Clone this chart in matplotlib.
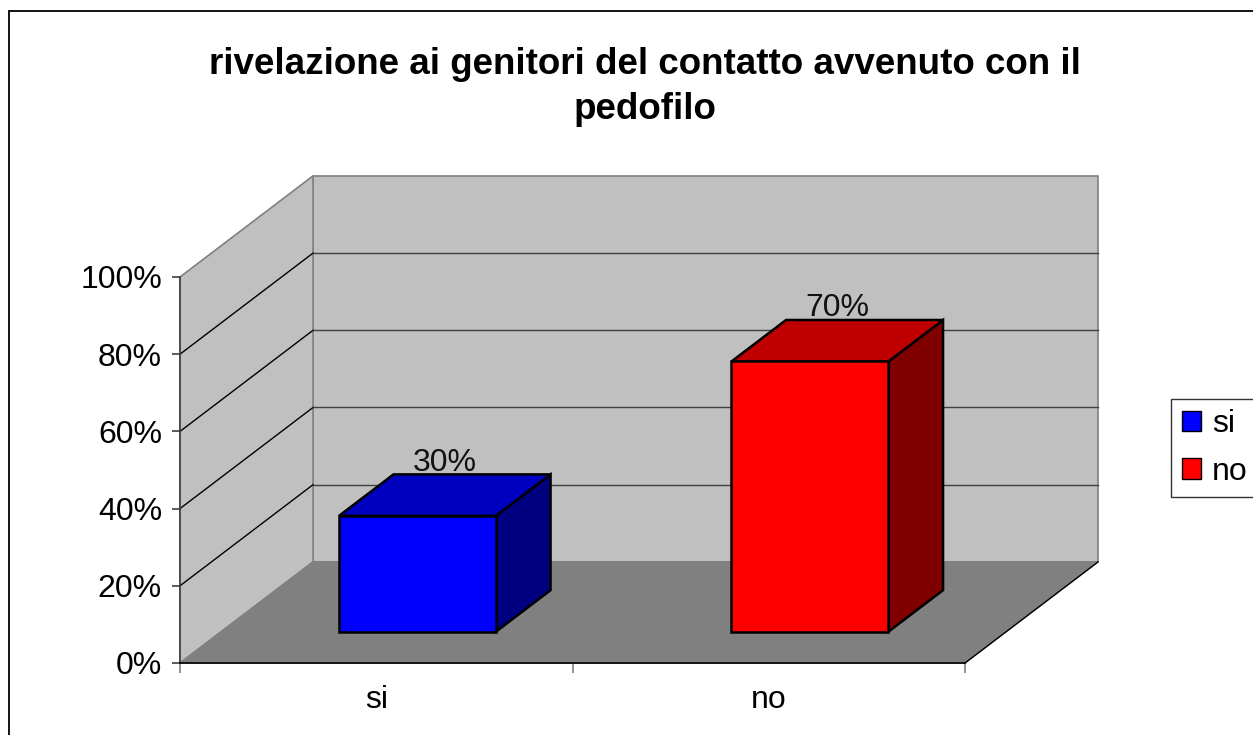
import matplotlib
matplotlib.use("Agg")
import matplotlib.pyplot as plt
from matplotlib.patches import Polygon, Patch, Rectangle

plt.rcParams['font.family'] = ['Liberation Sans', 'DejaVu Sans']

# ---- data ----
categories = ["si", "no"]
values = [30, 70]
value_labels = ["30%", "70%"]
front_colors = ["#0000FF", "#FF0000"]
top_colors = ["#0000C0", "#C00000"]
side_colors = ["#000080", "#800000"]
yticks = [0, 20, 40, 60, 80, 100]
ytick_labels = [f"{v}%" for v in yticks]
title = "rivelazione ai genitori del contatto avvenuto con il\npedofilo"

# ---- oblique projection parameters (in data units) ----
DX = 0.339   # depth offset along x (category units)
DY = 26.2    # depth offset along y (percent units)
BAR_X0, BAR_X1 = 0.3, 0.7   # bar extent within a category
BAR_D0, BAR_D1 = 0.31, 0.72 # bar extent in depth


def P(x, y, d):
    return (x + d * DX, y + d * DY)


W, H = 1253, 735
fig = plt.figure(figsize=(W / 100, H / 100), dpi=100)
ax = fig.add_axes([180 / W, 1 - 663 / H, 785 / W, 386 / H])
ncat = len(categories)
ax.set_xlim(0, ncat)
ax.set_ylim(0, 100)
ax.patch.set_visible(False)

ymax = yticks[-1]
# walls and floor
back = Polygon([P(0, 0, 1), P(ncat, 0, 1), P(ncat, ymax, 1), P(0, ymax, 1)],
               closed=True, facecolor="#C0C0C0", edgecolor="#808080", lw=1.2,
               clip_on=False, zorder=1)
left = Polygon([P(0, 0, 0), P(0, 0, 1), P(0, ymax, 1), P(0, ymax, 0)],
               closed=True, facecolor="#C0C0C0", edgecolor="#808080", lw=1.2,
               clip_on=False, zorder=1)
floor = Polygon([P(0, 0, 0), P(ncat, 0, 0), P(ncat, 0, 1), P(0, 0, 1)],
                closed=True, facecolor="#808080", edgecolor="#808080", lw=1.0,
                clip_on=False, zorder=3)
for p in (back, left, floor):
    ax.add_patch(p)
# right floor edge
xa, ya = P(ncat, 0, 0)
xb, yb = P(ncat, 0, 1)
ax.plot([xa, xb], [ya, yb], color="black", lw=1.0, clip_on=False, zorder=3.5)

# gridlines
for v in yticks[1:-1]:
    x0, y0 = P(0, v, 0)
    x1, y1 = P(0, v, 1)
    x2, y2 = P(ncat, v, 1)
    ax.plot([x0, x1], [y0, y1], color="black", lw=1.0, clip_on=False, zorder=2)
    ax.plot([x1, x2], [y1, y2], color="#404040", lw=1.0, clip_on=False, zorder=2)

# bars
for i, (v, fc, tc, sc, lab) in enumerate(zip(values, front_colors, top_colors,
                                              side_colors, value_labels)):
    x0, x1 = i + BAR_X0, i + BAR_X1
    d0, d1 = BAR_D0, BAR_D1
    front = [P(x0, 0, d0), P(x1, 0, d0), P(x1, v, d0), P(x0, v, d0)]
    top = [P(x0, v, d0), P(x1, v, d0), P(x1, v, d1), P(x0, v, d1)]
    side = [P(x1, 0, d0), P(x1, 0, d1), P(x1, v, d1), P(x1, v, d0)]
    for pts, c in ((side, sc), (top, tc), (front, fc)):
        ax.add_patch(Polygon(pts, closed=True, facecolor=c, edgecolor="black",
                             lw=1.8, joinstyle="miter", clip_on=False, zorder=5))
    lx, _ = P(i + 0.5, v, (d0 + d1) / 2)
    ly = v + 1.0 + d1 * DY
    ax.text(lx, ly, lab, ha="center", va="baseline", fontsize=23,
            color="#111111", zorder=6, clip_on=False)

# axes styling
for s in ("top", "right"):
    ax.spines[s].set_visible(False)
ax.spines["left"].set_color("#404040")
ax.spines["left"].set_linewidth(1.2)
ax.spines["bottom"].set_color("black")
ax.spines["bottom"].set_linewidth(1.2)
ax.spines["left"].set_zorder(4)
ax.spines["bottom"].set_zorder(4)

ax.set_yticks(yticks)
ax.set_yticklabels(ytick_labels, fontsize=23)
ax.tick_params(axis="y", length=6, width=1.2, color="#404040", pad=7)

ax.set_xticks(range(ncat + 1))
ax.set_xticklabels([""] * (ncat + 1))
ax.set_xticks([i + 0.5 for i in range(ncat)], minor=True)
ax.set_xticklabels(categories, minor=True, fontsize=23)
ax.tick_params(axis="x", which="major", length=7, width=1.2, color="#808080")
ax.tick_params(axis="x", which="minor", length=0, pad=16)

# title
fig.text(645 / W, 1 - 87 / H, title, ha="center", va="center",
         fontsize=26.5, fontweight="bold", linespacing=1.35)

# legend
handles = [Patch(facecolor=c, edgecolor="black", label=l)
           for c, l in zip(front_colors, categories)]
leg = fig.legend(handles=handles, loc="center left",
                 bbox_to_anchor=(1171 / W, 1 - 448 / H), fontsize=23,
                 frameon=True, fancybox=False, edgecolor="black",
                 handlelength=0.6, handleheight=0.6, handletextpad=0.35,
                 borderpad=0.33, labelspacing=0.55, borderaxespad=0)
leg.get_frame().set_linewidth(1.0)

# outer frame
fig.patches.append(Rectangle((9 / W, -0.1), 1.2, 1 - 11 / H + 0.1,
                             transform=fig.transFigure, fill=False,
                             edgecolor="black", lw=1.3))

fig.savefig("out.png", dpi=100)
